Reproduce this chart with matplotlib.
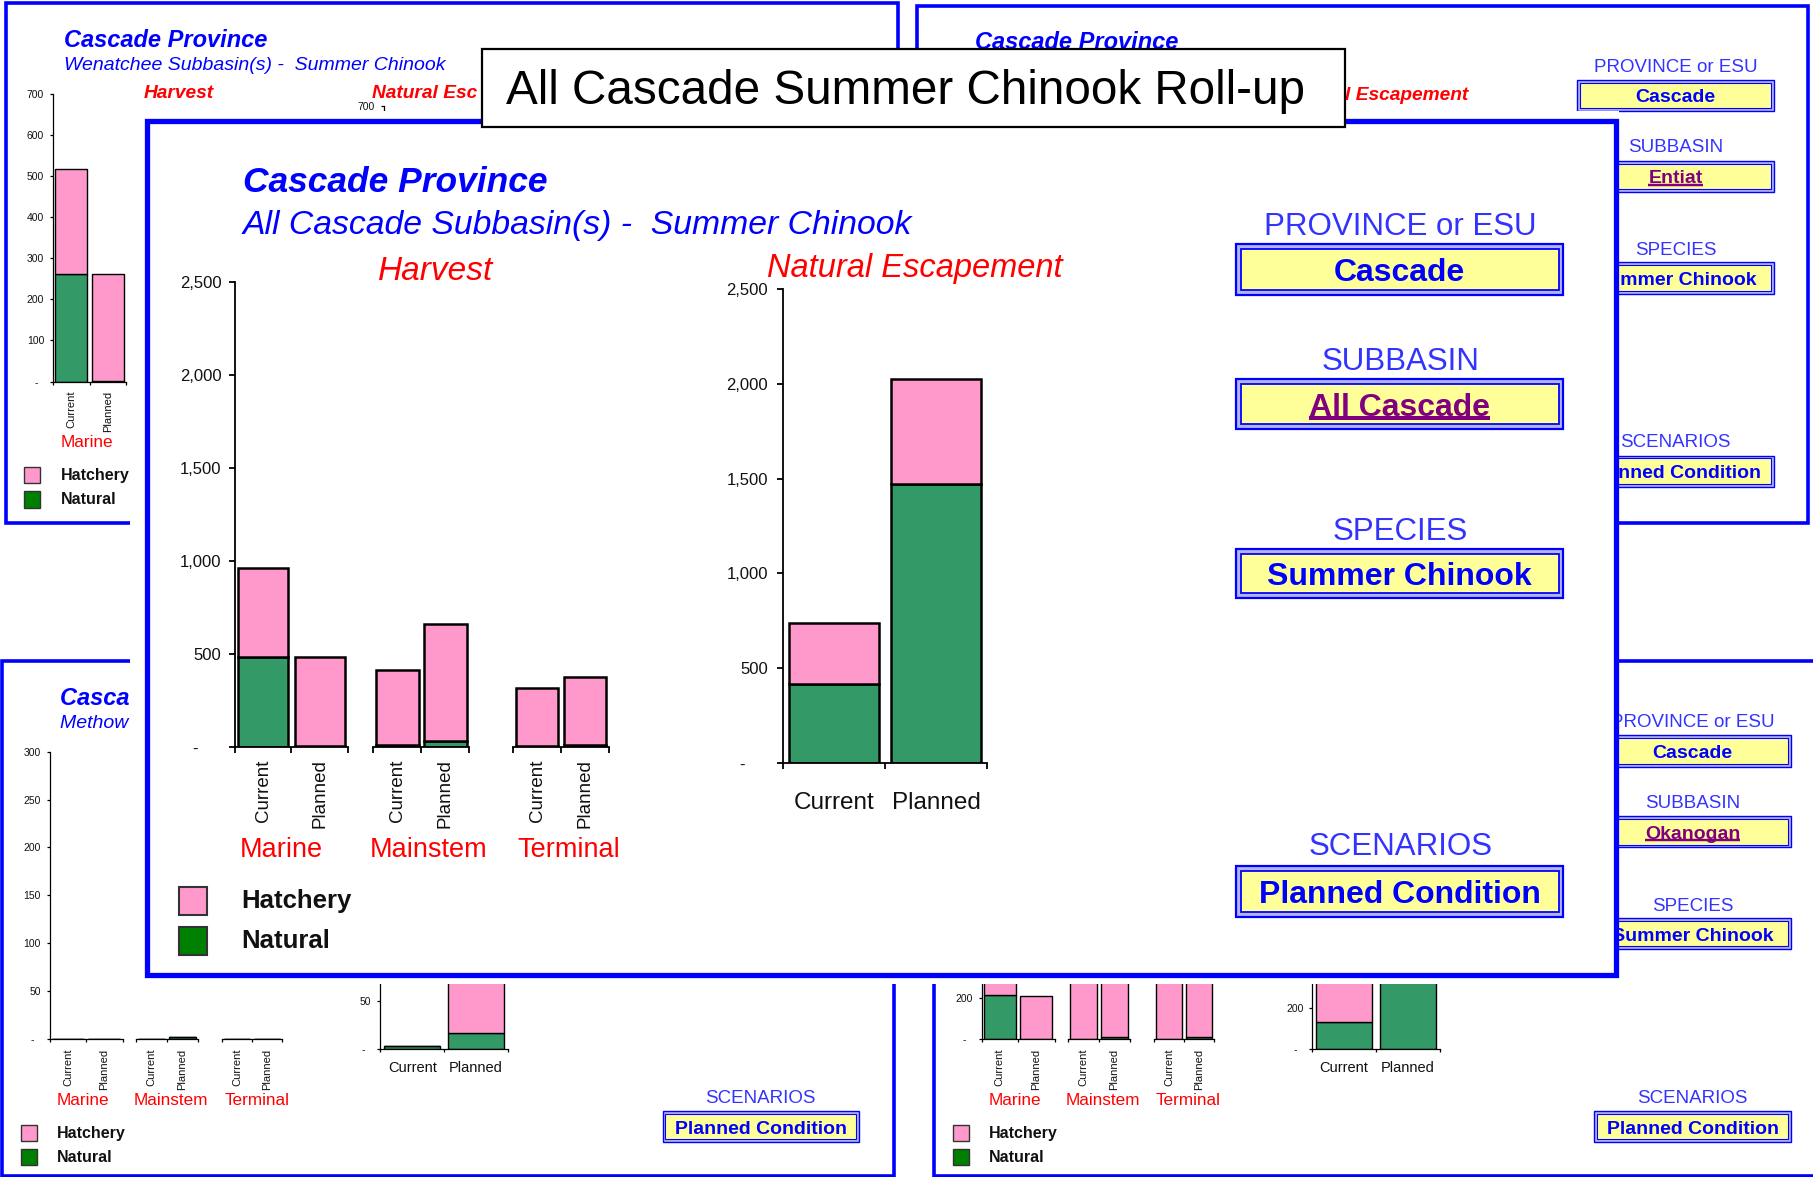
import numpy as np
import matplotlib.pyplot as plt
from matplotlib.patches import Rectangle
from matplotlib.ticker import FixedLocator

plt.rcParams['font.family'] = ['Liberation Sans', 'DejaVu Sans']

# layout is worked out on a 1568 x 1018 grid (y down)
W, H = 1568, 1018

BLUE = '#0000FF'
LBLUE = '#3333FF'
RED = '#FF0000'
PINK = '#FF99CC'
GREEN = '#339966'
DKGREEN = '#008000'
YELLOW = '#FFFF99'
PURPLE = '#800080'

scenarios = ['Current', 'Planned']
fisheries = ['Marine', 'Mainstem', 'Terminal']
selectors = ['PROVINCE or ESU', 'SUBBASIN', 'SPECIES', 'SCENARIOS']
province = 'Cascade'
species = 'Summer Chinook'
scenario = 'Planned Condition'
title = 'All Cascade Summer Chinook Roll-up'

# All Cascade roll-up (front sheet), harvest lists follow fisheries order
all_nat_cur = [484, 12, 5]
all_nat_pln = [3, 30, 12]
all_hat_cur = [478, 400, 310]
all_hat_pln = [481, 633, 362]
all_esc_nat = [415, 1470]
all_esc_hat = [323, 555]

# Wenatchee sheet (only the Marine harvest chart is uncovered)
wen_nat = [261, 1]
wen_hat = [255, 260]

# Methow sheet
met_nat_cur = [0, 0, 0]
met_nat_pln = [0, 3, 0]
met_hat_cur = [0, 0, 0]
met_hat_pln = [0, 0, 0]
met_esc_nat = [3, 17]
met_esc_hat = [0, 60]

# Okanogan sheet
oka_nat_cur = [217, 4, 4]
oka_nat_pln = [3, 12, 10]
oka_hat_cur = [260, 420, 310]
oka_hat_pln = [209, 560, 360]
oka_esc_nat = [132, 1000]
oka_esc_hat = [230, 300]

fig = plt.figure(figsize=(18.13, 11.77), dpi=100)
underlines = []
bg_charts = []

# areas that the front sheet and the title box cover
covers = [(112, 96, 1400, 851), (417, 42, 1163, 110)]


def overlay(z):
    a = fig.add_axes([0, 0, 1, 1])
    a.set_xlim(0, W)
    a.set_ylim(H, 0)
    a.axis('off')
    a.patch.set_visible(False)
    a.set_zorder(z)
    return a


def chart_ax(x0, y0, x1, y1, z):
    a = fig.add_axes([x0 / W, 1 - y1 / H, (x1 - x0) / W, (y1 - y0) / H])
    a.set_zorder(z)
    a.patch.set_visible(False)
    return a


def stacked(a, nat, hat, lw):
    x = np.arange(len(scenarios))
    a.bar(x, nat, width=0.88, color=GREEN, edgecolor='black', linewidth=lw, zorder=2)
    a.bar(x, hat, bottom=nat, width=0.88, color=PINK, edgecolor='black', linewidth=lw, zorder=2)


def style(a, ymax, step, show_y, fs_y, fs_x, rot, tlen, lw, xpad, zero, ypad=1.5):
    a.set_xlim(-0.5, 1.5)
    a.set_ylim(0, ymax)
    a.spines['top'].set_visible(False)
    a.spines['right'].set_visible(False)
    a.spines['bottom'].set_linewidth(lw)
    a.spines['left'].set_linewidth(lw)
    a.set_xticks(np.arange(len(scenarios)))
    a.set_xticklabels(scenarios, rotation=rot, fontsize=fs_x, color='#111111')
    a.xaxis.set_minor_locator(FixedLocator([-0.5, 0.5, 1.5]))
    a.tick_params(axis='x', which='major', length=0, pad=xpad)
    a.tick_params(axis='x', which='minor', length=tlen, width=lw, direction='out')
    if show_y:
        yt = np.arange(0, ymax + 1, step)
        a.set_yticks(yt)
        a.set_yticklabels([zero if v == 0 else f'{v:,}' for v in yt], fontsize=fs_y, color='#111111')
        a.tick_params(axis='y', length=tlen, width=lw, pad=tlen + ypad)
    else:
        a.spines['left'].set_visible(False)
        a.set_yticks([])


def sel_box(a, x0, y0, x1, y1, txt, color, fs, inset, lw, underline=False):
    a.add_patch(Rectangle((x0, y0), x1 - x0, y1 - y0, facecolor='#B4B4EC', edgecolor=BLUE, lw=lw))
    a.add_patch(Rectangle((x0 + inset, y0 + inset), x1 - x0 - 2 * inset, y1 - y0 - 2 * inset,
                          facecolor=YELLOW, edgecolor=BLUE, lw=lw * 0.8))
    # baseline so that the caps sit in the middle of the box
    cap = 0.716 * fs * (100 / 72) / 1.1563
    t = a.text((x0 + x1) / 2, (y0 + y1) / 2 + cap / 2, txt, ha='center', va='baseline',
               fontsize=fs, fontweight='bold', color=color)
    if underline:
        underlines.append((a, t, (y0 + y1) / 2 + cap / 2 + fs * 0.1, fs * 0.09))


def legend(a, x, y, sq, gap, fs, lw):
    for i, (name, col) in enumerate([('Hatchery', PINK), ('Natural', DKGREEN)]):
        a.add_patch(Rectangle((x, y + i * gap), sq, sq, facecolor=col, edgecolor='#333333', lw=lw))
        a.text(x + sq + sq * 1.25, y + i * gap + sq / 2, name, fontsize=fs, fontweight='bold',
               color='#111111', va='center')


def panel(a, px, py, w, h, basin, harvest, escape, ymax, step, lower=True,
          esc_head=('Natural Escapement', 'left')):
    a.add_patch(Rectangle((px, py), w, h, fill=False, edgecolor=BLUE, lw=2.6))
    a.text(px + 50, py + 32, 'Cascade Province', fontsize=17, fontweight='bold', style='italic',
           color=BLUE, va='center')
    a.text(px + 50, py + 54, f'{basin} Subbasin(s) -  {species}', fontsize=14, style='italic',
           color=BLUE, va='center')
    a.text(px + 150, py + 78, 'Harvest', fontsize=13.8, fontweight='bold', style='italic',
           color=RED, va='center', ha='center')
    # the title box cuts this heading on the upper sheets, only the uncovered part is written
    head, side = esc_head
    a.text(px + (317 if side == 'left' else 477), py + 78, head, fontsize=13.8, fontweight='bold',
           style='italic', color=RED, va='center', ha=side)
    values = [province, basin, species, scenario]
    lab_y = [53, 123, 212, 378]
    box_y = [64, 134, 222, 389]
    for i, lab in enumerate(selectors):
        a.text(px + 656, py + lab_y[i], lab, fontsize=13.5, color=LBLUE, ha='center', va='center')
        sel_box(a, px + 571, py + box_y[i], px + 741, py + box_y[i] + 27, values[i],
                PURPLE if i == 1 else BLUE, 14, 2.5, 1.0, underline=(i == 1))
    if not lower:
        return
    for xo, name in zip([70, 146, 220], fisheries):
        a.text(px + xo, py + 380, name, fontsize=12.3, color=RED, ha='center', va='center')
    legend(a, px + 16, py + 401, 14, 21, 11.5, 1.0)
    spans = [(41, 104), (116, 169), (190, 242)]
    for i, grp in enumerate(harvest):
        if grp is None:
            continue
        c = chart_ax(px + spans[i][0], py + 78, px + spans[i][1], py + 327, 1)
        stacked(c, grp[0], grp[1], 1.0)
        style(c, ymax, step, i == 0, 7.5, 8, 90, 2.5, 0.9, 6.5, '-  ')
        bg_charts.append(c)
    c = chart_ax(px + 327, py + 89, px + 437, py + 335, 1)
    if escape is not None:
        stacked(c, escape[0], escape[1], 1.0)
    style(c, ymax, step, True, 7.5, 10.5, 0, 2.5, 0.9, 9, '-  ')
    bg_charts.append(c)


# ---------------- background sheets ----------------
bg = overlay(0)
panel(bg, 5, 3, 772, 449, 'Wenatchee', [(wen_nat, wen_hat), None, None], None, 700, 100,
      esc_head=('Natural Esc', 'left'))
panel(bg, 793, 5, 771, 447, 'Entiat', [], None, 700, 100, lower=False,
      esc_head=('l Escapement', 'right'))
panel(bg, 2, 572, 771, 445, 'Methow',
      [([met_nat_cur[i], met_nat_pln[i]], [met_hat_cur[i], met_hat_pln[i]]) for i in range(3)],
      (met_esc_nat, met_esc_hat), 300, 50)
panel(bg, 808, 572, 771, 445, 'Okanogan',
      [([oka_nat_cur[i], oka_nat_pln[i]], [oka_hat_cur[i], oka_hat_pln[i]]) for i in range(3)],
      (oka_esc_nat, oka_esc_hat), 1400, 200)

# ---------------- front sheet ----------------
fr = overlay(2)
fr.add_patch(Rectangle((112, 96), 1400 - 112, 851 - 96, facecolor='white', edgecolor='none'))
fr.add_patch(Rectangle((127, 105), 1398 - 127, 843 - 105, fill=False, edgecolor=BLUE, lw=3.8))

fr.text(210, 158, 'Cascade Province', fontsize=25.5, fontweight='bold', style='italic',
        color=BLUE, va='center')
fr.text(210, 195, f'All Cascade Subbasin(s) -  {species}', fontsize=24.3, style='italic',
        color=BLUE, va='center')
fr.text(377, 235, 'Harvest', fontsize=24, style='italic', color=RED, ha='center', va='center')
fr.text(791, 232, 'Natural Escapement', fontsize=23.5, style='italic', color=RED, ha='center', va='center')

for x, name in zip([243, 371, 492], fisheries):
    fr.text(x, 735, name, fontsize=19.5, color=RED, ha='center', va='center')
legend(fr, 155, 767, 24, 35, 18.5, 1.5)

main_values = [province, 'All Cascade', species, scenario]
main_lab_y = [196, 313, 460, 733]
main_box_y = [(211, 255), (328, 371), (475, 517), (749, 793)]
for i, lab in enumerate(selectors):
    fr.text(1211, main_lab_y[i], lab, fontsize=22.5, color=LBLUE, ha='center', va='center')
    sel_box(fr, 1069, main_box_y[i][0], 1352, main_box_y[i][1], main_values[i],
            PURPLE if i == 1 else BLUE, 23, 4, 1.6, underline=(i == 1))

spans = [(203, 301), (323, 406), (444, 527)]
for i in range(3):
    c = chart_ax(spans[i][0], 244, spans[i][1], 646, 3)
    stacked(c, [all_nat_cur[i], all_nat_pln[i]], [all_hat_cur[i], all_hat_pln[i]], 1.8)
    style(c, 2500, 500, i == 0, 12, 13.5, 90, 4, 1.3, 9, '-     ')

c = chart_ax(677, 250, 854, 660, 3)
stacked(c, all_esc_nat, all_esc_hat, 1.8)
style(c, 2500, 500, True, 12, 17.5, 0, 4, 1.3, 20.5, '-     ', ypad=2.5)

# ---------------- title box ----------------
tp = overlay(4)
tp.add_patch(Rectangle((417, 42), 1163 - 417, 110 - 42, facecolor='white', edgecolor='black', lw=1.6))
tp.text(783, 79, title, fontsize=34.3, ha='center', va='center', color='black')

# underline the hyperlink-style subbasin names
fig.canvas.draw()
r = fig.canvas.get_renderer()
for a, t, yb, lw in underlines:
    bb = t.get_window_extent(renderer=r)
    inv = a.transData.inverted()
    xa = inv.transform((bb.x0, bb.y0))[0]
    xb = inv.transform((bb.x1, bb.y0))[0]
    a.plot([xa, xb], [yb, yb], color=PURPLE, lw=lw * 1.4, solid_capstyle='butt')

# texts of the back sheets that end up fully under the front sheet or title box
fw, fh = fig.bbox.width, fig.bbox.height
back_texts = list(bg.texts)
for c in bg_charts:
    back_texts += c.get_xticklabels() + c.get_yticklabels()
for t in back_texts:
    if not t.get_visible() or not t.get_text():
        continue
    bb = t.get_window_extent(renderer=r)
    x0, x1 = bb.x0 * W / fw, bb.x1 * W / fw
    y0, y1 = (fh - bb.y1) * H / fh, (fh - bb.y0) * H / fh
    for cx0, cy0, cx1, cy1 in covers:
        if x0 >= cx0 and x1 <= cx1 and y0 >= cy0 and y1 <= cy1:
            t.set_visible(False)
            break

fig.savefig('out.png', dpi=100)
